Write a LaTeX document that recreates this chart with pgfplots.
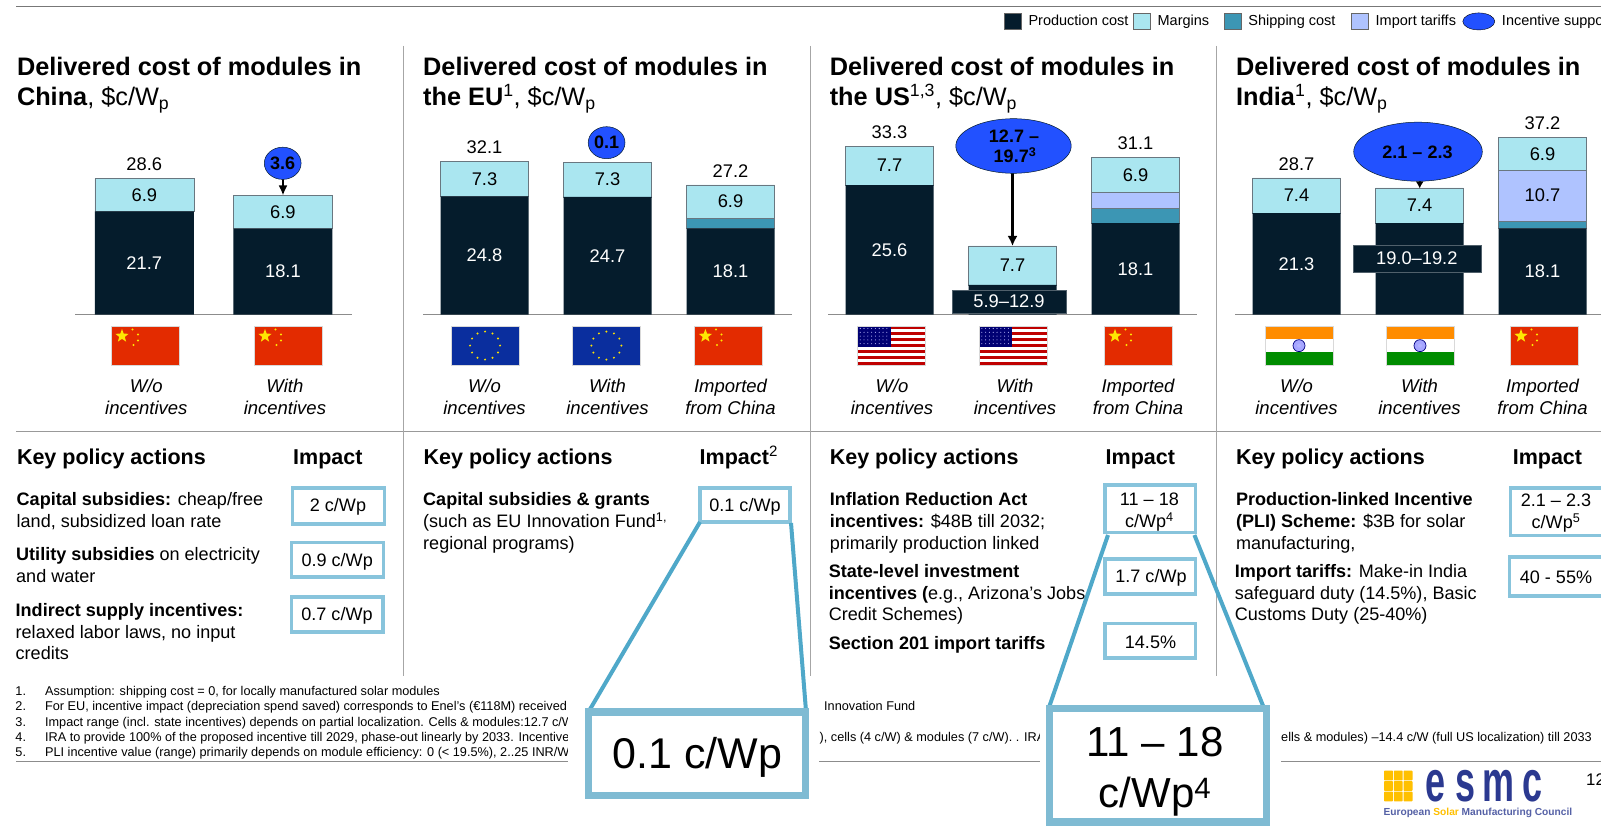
\documentclass[border=0pt]{standalone}
\usepackage{pgfplots}
\pgfplotsset{compat=1.18}
\usepackage{fontspec}
\setmainfont{Liberation Sans}
\usetikzlibrary{arrows.meta,shapes.geometric}
\definecolor{cProd}{HTML}{051C2C}
\definecolor{cMarg}{HTML}{AAE6F0}
\definecolor{cShip}{HTML}{3C96B4}
\definecolor{cTar}{HTML}{AFC3FF}
\definecolor{cBlue}{HTML}{2251FF}
\definecolor{cBox}{HTML}{88C4DC}
\definecolor{cConn}{HTML}{4FA8C9}
\definecolor{cInset}{HTML}{7FBBD3}
\definecolor{cAxis}{HTML}{8C8C8C}
\definecolor{cRed}{HTML}{E32B00}
\definecolor{cEU}{HTML}{0A2E9E}
\definecolor{cLogo}{HTML}{2B3990}
\definecolor{cGold}{HTML}{FFC000}
\newcommand\fs[1]{\fontsize{#1}{#1}\selectfont}
\newcommand\body{\fontsize{18.05}{21.7}\selectfont}
\newcommand\ttl{\fontsize{25.3}{30}\selectfont}
\newcommand\hd{\fontsize{21.5}{26}\selectfont}
\newcommand\foot{\fontsize{12.7}{15}\selectfont}
% text with baseline-left at pixel position
\newcommand\T[3]{\node[anchor=base west,inner sep=0pt,yshift=-.8pt] at (#1,#2) {#3};}
\newcommand\C[3]{\node[anchor=base,inner sep=0pt,yshift=-.8pt] at (#1,#2) {#3};}
\newcommand\M[3]{\node[anchor=center,inner sep=0pt,yshift=-.8pt] at (#1,#2) {#3};}
\newcommand\ibox[4]{\draw[cBox,line width=3.6pt] ({#1+1.8},{#2+1.8}) rectangle ({#3-1.8},{#4-1.8});}
\newcommand\flagCN[1]{\begin{scope}[shift={(#1,326)}]
 \fill[cRed] (0,0) rectangle (68,39.3); \draw[black!15,line width=.6pt] (0,0) rectangle (68,39.3);
 \node[star,star points=5,star point ratio=2.4,fill=yellow!90!orange,inner sep=0pt,minimum size=14pt] at (11,10) {};
 \foreach \a/\b in {21.5/3.5,27/8.5,27/14.5,22.5/19}{\fill[yellow!90!orange] (\a,\b) circle (1.1);}
 \end{scope}}
\newcommand\flagEU[1]{\begin{scope}[shift={(#1,326)}]
 \fill[cEU] (0,0) rectangle (68,39.3); \draw[black!15,line width=.6pt] (0,0) rectangle (68,39.3);
 \foreach \a in {0,30,...,330}{\fill[yellow!85!orange] ({34+15*cos(\a)},{19.6+14*sin(\a)}) circle (1.1);}
 \end{scope}}
\newcommand\flagUS[1]{\begin{scope}[shift={(#1,326)}]
 \fill[white] (0,0) rectangle (68,39.3);
 \foreach \i in {0,2,...,12}{\fill[red!75!black] (0,{\i*39.3/13}) rectangle (68,{(\i+1)*39.3/13});}
 \fill[blue!45!black] (0,0) rectangle (33,21.5);
 \foreach \a in {2.5,6.3,...,32}{\foreach \b in {2.5,6.3,...,21}{\fill[white!75!blue] (\a,\b) circle (.55);}}
 \draw[black!15,line width=.6pt] (0,0) rectangle (68,39.3);
 \end{scope}}
\newcommand\flagIN[1]{\begin{scope}[shift={(#1,326)}]
 \fill[orange!90!yellow] (0,0) rectangle (68,13.1);
 \fill[white] (0,13.1) rectangle (68,26.2);
 \fill[green!55!black] (0,26.2) rectangle (68,39.3);
 \filldraw[fill=blue!35!white,draw=blue!50!black,line width=.7pt] (34,19.65) circle (6);
 \fill[white!70!blue] (34,19.65) circle (2);
 \draw[black!15,line width=.6pt] (0,0) rectangle (68,39.3);
 \end{scope}}
\pgfplotsset{
 panel/.style={ybar stacked, anchor=south west, axis y line=none, axis x line=bottom,
  x axis line style={-,draw=cAxis,line width=1.4pt},
  enlargelimits=false, ymin=0, ymax=40, clip=false, xmin=-.5,
  xtick style={draw=none}, major tick length=0pt,
  xticklabel style={font=\fontsize{18.5}{21.7}\selectfont\itshape,align=center,inner sep=0pt,yshift=-64pt}},
 % second layer over the same scales: the value labels, drawn after the bars
 toplabels/.style={anchor=south west, hide axis, enlargelimits=false, ymin=0, ymax=40, clip=false, xmin=-.5},
 lab/.style={draw=none,mark=none,forget plot,point meta=explicit symbolic,nodes near coords,
   every node near coord/.style={anchor=center,inner sep=0pt,font=\fs{18.3},text=black}},
 wl/.style={lab,every node near coord/.append style={text=white}},
 vl/.style={lab},
 tl/.style={lab,every node near coord/.append style={yshift=14pt}},
 sProd/.style={fill=cProd,draw=none},
 sShip/.style={fill=cShip,draw=cProd!60,line width=.5pt},
 sTar/.style={fill=cTar,draw=cProd!60,line width=.5pt},
 sMarg/.style={fill=cMarg,draw=cProd!60,line width=.5pt},
 legrect/.style={legend image code/.code={\draw[fill=#1,draw=black!60,line width=.7pt] (0pt,-8pt) rectangle (16.5pt,8pt);}},
 legell/.style={legend image code/.code={\fill[fill=cBlue] (16pt,0pt) ellipse [x radius=16pt,y radius=8.5pt];}},
}
\begin{document}
\begin{tikzpicture}
\useasboundingbox (0pt,0pt) rectangle (1601pt,825pt);
\fill[white] (0pt,0pt) rectangle (1601pt,825pt);
\clip (0pt,0pt) rectangle (1601pt,825pt);
% ---------- China
\begin{axis}[panel, at={(75pt,510.3pt)}, x=138.6pt, y=4.76pt, xmax=1.5, bar width=99pt,
  xticklabel style={xshift=2pt},
  xtick={0,1}, xticklabels={{W/o\\incentives},{With\\incentives}}]
\addplot[sProd] coordinates {(0,21.7) (1,18.1)};
\addplot[sMarg] coordinates {(0,6.9) (1,6.9)};
\end{axis}
\begin{axis}[toplabels, at={(75pt,510.3pt)}, x=138.6pt, y=4.76pt, xmax=1.5]
\addplot[wl] coordinates {(0,10.85)[21.7] (1,9.05)[18.1]};
\addplot[vl] coordinates {(0,25.15)[6.9] (1,21.55)[6.9]};
\addplot[tl] coordinates {(0,28.6)[28.6]};
\end{axis}
% ---------- EU
\begin{axis}[panel, at={(423pt,510.3pt)}, x=123pt, y=4.77pt, xmax=2.5, bar width=88pt,
  xtick={0,1,2}, xticklabels={{W/o\\incentives},{With\\incentives},{Imported\\from China}}]
\addplot[sProd] coordinates {(0,24.8) (1,24.7) (2,18.1)};
\addplot[sShip] coordinates {(0,0) (1,0) (2,2.2)};
\addplot[sMarg] coordinates {(0,7.3) (1,7.3) (2,6.9)};
\end{axis}
\begin{axis}[toplabels, at={(423pt,510.3pt)}, x=123pt, y=4.77pt, xmax=2.5]
\addplot[wl] coordinates {(0,12.4)[24.8] (1,12.35)[24.7] (2,9.05)[18.1]};
\addplot[vl] coordinates {(0,28.45)[7.3] (1,28.35)[7.3] (2,23.75)[6.9]};
\addplot[tl] coordinates {(0,32.1)[32.1] (2,27.2)[27.2]};
\end{axis}
% ---------- US (carries the legend)
\begin{axis}[panel, at={(828pt,510.3pt)}, x=123pt, y=5.06pt, xmax=2.5, bar width=88pt,
  xticklabel style={xshift=2.5pt},
  xtick={0,1,2}, xticklabels={{W/o\\incentives},{With\\incentives},{Imported\\from China}},
  legend columns=5, legend cell align=left,
  legend style={at={(0.4778,1.492)},anchor=north west,draw=none,fill=none,inner sep=0pt,outer sep=0pt,
    font=\fs{14.5},nodes={inner sep=0pt},
    /tikz/every odd column/.append style={column sep=7pt},
    /tikz/column 2/.style={column sep=5pt},
    /tikz/column 4/.style={column sep=15pt},
    /tikz/column 5/.style={column sep=5pt},
    /tikz/column 6/.style={column sep=16pt},
    /tikz/column 7/.style={column sep=5pt},
    /tikz/column 8/.style={column sep=6.6pt},
    /tikz/column 9/.style={column sep=3.5pt}}]
\addplot[sProd,legrect=cProd] coordinates {(0,25.6) (1,5.9) (2,18.1)};
\addlegendentry{Production cost}
\addplot[sShip,forget plot] coordinates {(0,0) (1,0) (2,2.9)};
\addplot[sTar,forget plot] coordinates {(0,0) (1,0) (2,3.2)};
\addplot[sMarg,forget plot] coordinates {(0,7.7) (1,7.7) (2,6.9)};
\addlegendimage{legrect=cMarg}\addlegendentry{Margins}
\addlegendimage{legrect=cShip}\addlegendentry{Shipping cost}
\addlegendimage{legrect=cTar}\addlegendentry{Import tariffs}
\addlegendimage{legell}\addlegendentry{Incentive support}
\end{axis}
\begin{axis}[toplabels, at={(828pt,510.3pt)}, x=123pt, y=5.06pt, xmax=2.5]
\addplot[wl] coordinates {(0,12.8)[25.6] (2,9.05)[18.1]};
\addplot[vl] coordinates {(0,29.45)[7.7] (1,9.75)[7.7] (2,27.65)[6.9]};
\addplot[tl] coordinates {(0,33.3)[33.3] (2,31.1)[31.1]};
\end{axis}
% ---------- India
\begin{axis}[panel, at={(1235pt,510.3pt)}, x=123pt, y=4.765pt, xmax=2.5, bar width=88pt,
  xtick={0,1,2}, xticklabels={{W/o\\incentives},{With\\incentives},{Imported\\from China}}]
\addplot[sProd] coordinates {(0,21.3) (1,19.2) (2,18.1)};
\addplot[sShip] coordinates {(0,0) (1,0) (2,1.5)};
\addplot[sTar] coordinates {(0,0) (1,0) (2,10.7)};
\addplot[sMarg] coordinates {(0,7.4) (1,7.4) (2,6.9)};
\end{axis}
\begin{axis}[toplabels, at={(1235pt,510.3pt)}, x=123pt, y=4.765pt, xmax=2.5]
\addplot[wl] coordinates {(0,10.65)[21.3] (2,9.05)[18.1]};
\addplot[vl] coordinates {(0,25)[7.4] (1,22.9)[7.4] (2,33.75)[6.9] (2,25.15)[10.7]};
\addplot[tl] coordinates {(0,28.7)[28.7] (2,37.2)[37.2]};
\end{axis}
% ---------- everything else, in pixel coordinates of the reference
\begin{scope}[x=1pt,y=-1pt,yshift=825pt]
% rules
\draw[cAxis!85!black,line width=1.3pt] (16,6.7) -- (1601,6.7);
\draw[black!40,line width=.9pt] (16,431) -- (1601,431);
\foreach \x in {403.6,810.7,1216.4}{\draw[black!35,line width=.8pt] (\x,46) -- (\x,676);}
% titles
\T{16.8}{75}{\ttl\bfseries Delivered cost of modules in}
\T{16.8}{105}{\ttl\textbf{China}, \$c/W\textsubscript{p}}
\T{423}{75}{\ttl\bfseries Delivered cost of modules in}
\T{423}{105}{\ttl\textbf{the EU}\textsuperscript{1}, \$c/W\textsubscript{p}}
\T{829.6}{75}{\ttl\bfseries Delivered cost of modules in}
\T{829.6}{105}{\ttl\textbf{the US}\textsuperscript{1,3}, \$c/W\textsubscript{p}}
\T{1235.8}{75}{\ttl\bfseries Delivered cost of modules in}
\T{1235.8}{105}{\ttl\textbf{India}\textsuperscript{1}, \$c/W\textsubscript{p}}
% flags
\flagCN{111}\flagCN{254}
\flagEU{451}\flagEU{572.4}\flagCN{694.4}
\flagUS{857.7}\flagUS{979.3}\flagCN{1104}
\flagIN{1265}\flagIN{1386}\flagCN{1510}
% range labels over bars
\node[fill=cProd,draw=cProd!70,line width=.4pt,minimum width=114pt,minimum height=23pt,inner sep=0pt,text=white,font=\fs{18.3}] at (1009,301.3) {5.9–12.9};
\node[fill=cProd,draw=cProd!70,line width=.4pt,minimum width=128pt,minimum height=27.5pt,inner sep=0pt,text=white,font=\fs{18.3}] at (1416.8,258.7) {19.0–19.2};
% incentive bubbles and arrows
\begin{scope}[every node/.style={inner sep=0pt,font=\fs{18}\bfseries}]
\draw[line width=2.1pt,-{Latex[length=10pt,width=9pt]}] (283,178) -- (283,195.5);
\filldraw[fill=cBlue,draw=cProd,line width=.5pt] (282.7,163.3) ellipse [x radius=18.4,y radius=16.1];
\node at (282.7,163.3) {3.6};
\filldraw[fill=cBlue,draw=cProd,line width=.5pt] (606.6,142.7) ellipse [x radius=18.4,y radius=16];
\node at (606.6,142.7) {0.1};
\draw[line width=2.1pt,-{Latex[length=10pt,width=10pt]}] (1012.5,172) -- (1012.5,246);
\filldraw[fill=cBlue,draw=cProd,line width=.5pt] (1013.5,146) ellipse [x radius=57.7,y radius=27.3];
\node at (1014,136.5) {12.7 –};
\node at (1015,155.5) {19.7\textsuperscript{3}};
\draw[line width=2.1pt,-{Latex[length=7pt,width=8pt]}] (1419.7,180) -- (1419.7,188.5);
\filldraw[fill=cBlue,draw=cProd,line width=.5pt] (1418,151.7) ellipse [x radius=64.3,y radius=29.5];
\node at (1417.5,152) {2.1 – 2.3};
\end{scope}
% policy headers
\T{16.8}{463.3}{\hd\bfseries Key policy actions}
\T{293}{463.3}{\hd\bfseries Impact}
\T{423.5}{463.3}{\hd\bfseries Key policy actions}
\T{699.5}{463.3}{\hd\textbf{Impact}\textsuperscript{2}}
\T{829.6}{463.3}{\hd\bfseries Key policy actions}
\T{1105.5}{463.3}{\hd\bfseries Impact}
\T{1235.8}{463.3}{\hd\bfseries Key policy actions}
\T{1512.6}{463.3}{\hd\bfseries Impact}
% China policy
\T{16.5}{505}{\body\textbf{Capital subsidies:} cheap/free}
\T{16.5}{526.7}{\body land, subsidized loan rate}
\T{16}{560}{\body\textbf{Utility subsidies} on electricity}
\T{16}{581.7}{\body and water}
\T{15.5}{615.7}{\body\bfseries Indirect supply incentives:}
\T{15.5}{637.3}{\body relaxed labor laws, no input}
\T{15.5}{659}{\body credits}
\ibox{290.8}{486}{386.2}{526}
\ibox{289.8}{540.7}{385.2}{579}
\ibox{289.8}{595.3}{385}{633.7}
\M{338}{506}{\body 2 c/Wp}
\M{337.2}{560.7}{\body 0.9 c/Wp}
\M{337}{615.3}{\body 0.7 c/Wp}
% EU policy
\T{423}{505}{\body\bfseries Capital subsidies \& grants}
\T{423}{526.7}{\body (such as EU Innovation Fund\textsuperscript{1,}}
\T{423}{548.3}{\body regional programs)}
\ibox{698}{486}{791.8}{523.7}
\M{745}{506}{\body 0.1 c/Wp}
% US policy
\T{829.6}{505}{\body\bfseries Inflation Reduction Act}
\T{829.6}{526.7}{\body\textbf{incentives:} \$48B till 2032;}
\T{829.6}{548.3}{\body primarily production linked}
\T{828.6}{576.7}{\body\bfseries State-level investment}
\T{828.6}{598.3}{\body\textbf{incentives (}e.g., Arizona’s Jobs}
\T{828.6}{620}{\body Credit Schemes)}
\T{828.6}{648.3}{\body\bfseries Section 201 import tariffs}
\ibox{1103}{483.3}{1197.4}{534.3}
\ibox{1103}{557.3}{1197.4}{596}
\ibox{1103}{621.7}{1197.4}{659.7}
\C{1149.4}{505}{\body 11 – 18}
\C{1149.4}{526.7}{\body c/Wp\textsuperscript{4}}
\M{1151}{577.3}{\body 1.7 c/Wp}
\M{1150.5}{641.7}{\body 14.5\%}
% India policy
\T{1235.8}{505}{\body\bfseries Production-linked Incentive}
\T{1235.8}{526.7}{\body\textbf{(PLI) Scheme:} \$3B for solar}
\T{1235.8}{548.3}{\body manufacturing,}
\T{1234.7}{576.7}{\body\textbf{Import tariffs:} Make-in India}
\T{1234.7}{598.3}{\body safeguard duty (14.5\%), Basic}
\T{1234.7}{620}{\body Customs Duty (25-40\%)}
\ibox{1508.6}{486}{1606}{537.3}
\ibox{1507.5}{555.3}{1606}{597.7}
\C{1556}{505.5}{\body 2.1 – 2.3}
\C{1556}{527.5}{\body c/Wp\textsuperscript{5}}
\M{1556}{576.7}{\body 40 - 55\%}
% footnotes
\foreach \n/\y in {1/695,2/710,3/725.7,4/740.7,5/756}{\T{15.3}{\y}{\foot\n.}}
\T{44.9}{695}{\foot Assumption: shipping cost = 0, for locally manufactured solar modules}
\T{44.9}{710}{\foot For EU, incentive impact (depreciation spend saved) corresponds to Enel’s (€118M) received}
\T{44.9}{725.7}{\foot Impact range (incl. state incentives) depends on partial localization. Cells \& modules:12.7 c/W}
\T{44.9}{740.7}{\foot IRA to provide 100\% of the proposed incentive till 2029, phase-out linearly by 2033. Incentive}
\T{44.9}{756}{\foot PLI incentive value (range) primarily depends on module efficiency: 0 (< 19.5\%), 2..25 INR/W}
\T{824}{710}{\foot Innovation Fund}
\T{819.5}{740.7}{\foot ), cells (4 c/W) \& modules (7 c/W). . IRA}
\T{1281}{740.7}{\foot ells \& modules) –14.4 c/W (full US localization) till 2033}
\draw[cAxis,line width=1.1pt] (16,761.7) -- (1601,761.7);
% white covers of the enlarged boxes
\fill[white] (567.7,685) rectangle (819.3,825);
\fill[white] (1040,685) rectangle (1281,825);
% enlargement connectors
\draw[cConn,line width=4pt] (700,522) -- (589,711);
\draw[cConn,line width=4pt] (791,523) -- (806,711);
\draw[cConn,line width=4pt] (1108,535) -- (1048.8,708);
\draw[cConn,line width=4pt] (1194.4,535) -- (1263.9,708);
% enlarged boxes
\draw[cInset,line width=7.4pt] (588.7,712) rectangle (805.6,795.6);
\M{697.3}{756.7}{\fs{43}0.1 c/Wp}
\draw[cInset,line width=7.4pt] (1049.4,708.7) rectangle (1266.3,822);
\C{1155}{756}{\fs{42}11 – 18}
\C{1155}{806.7}{\fs{42}c/Wp\textsuperscript{4}}
% logo
\foreach \i in {0,1,2}{\foreach \j in {0,1,2}{\fill[cGold,rounded corners=.6pt] ({1384+\i*9.8},{770.7+\j*10.5}) rectangle ({1384+\i*9.8+8.9},{770.7+\j*10.5+9.6});}}
\foreach \x/\l in {1435/e,1465/s,1498/m,1532/c}{\node[anchor=base,inner sep=0pt,text=cLogo] at (\x,801.5) {\fs{58}\bfseries\scalebox{.62}[1]{\l}};}
\T{1383.3}{814.5}{\fs{10.2}\bfseries\textcolor{cLogo!80}{European }\textcolor{cGold}{Solar }\textcolor{cLogo!80}{Manufacturing Council}}
\T{1586}{784.3}{\fs{16.8}12}
\end{scope}
\end{tikzpicture}
\end{document}
